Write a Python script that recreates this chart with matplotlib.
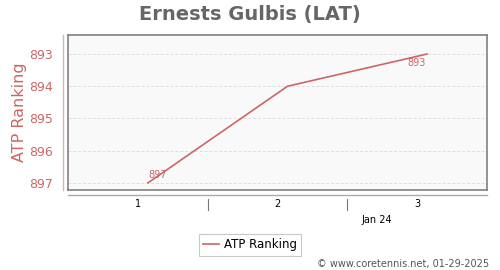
import matplotlib.pyplot as plt
import matplotlib.transforms as mtransforms

weeks = [1, 2, 3]
ranking = [897, 894, 893]
yticks = [893, 894, 895, 896, 897]
xlabels = ["1", "2", "3"]

red = "#cc6666"

fig = plt.figure(figsize=(5, 2.7), dpi=100)
ax = fig.add_axes([0.136, 0.2963, 0.838, 0.574])
ax.set_facecolor("#f9f9f9")
for s in ax.spines.values():
    s.set_color("#777777")
    s.set_linewidth(1.1)

ax.plot(weeks, ranking, color=red, lw=1.2, label="ATP Ranking")
ax.set_xlim(0.427, 3.43)
ax.set_ylim(897.22, 892.41)

ax.set_yticks(yticks)
ax.set_yticklabels([str(v) for v in yticks], color=red, fontsize=9)
ax.tick_params(axis="y", length=0, pad=11)
ax.set_xticks([])
ax.grid(axis="y", color="#dddddd", ls=(0, (3, 2)), lw=0.7)
ax.set_ylabel("ATP Ranking", color=red, fontsize=11.5, labelpad=1)

# annotations of first and last values
ax.annotate(str(ranking[0]), (weeks[0], ranking[0]), xytext=(0, 2),
            textcoords="offset points", color=red, fontsize=7, ha="left", va="bottom")
ax.annotate(str(ranking[-1]), (weeks[-1], ranking[-1]), xytext=(-14, -3),
            textcoords="offset points", color=red, fontsize=7, ha="left", va="top")

# left pink axis line and bottom gray axis line
ax.plot([-0.0119, -0.0119], [0, 1], transform=ax.transAxes, color="#e0b0b0",
        lw=1, clip_on=False)
ax.plot([0, 1], [-0.032, -0.032], transform=ax.transAxes, color="#aaaaaa",
        lw=1, clip_on=False)

# x labels and separators
blend = mtransforms.blended_transform_factory(ax.transData, ax.transAxes)
for x, lab in zip(weeks, xlabels):
    ax.text(x - 0.072, -0.09, lab, transform=blend, fontsize=7, ha="center", va="center")
for x in [1.5, 2.5]:
    ax.plot([x - 0.072, x - 0.072], [-0.058, -0.129], transform=blend, color="#777777",
            lw=0.8, clip_on=False)
ax.text(2.5 + 0.14, -0.195, "Jan 24", transform=blend, fontsize=7, ha="center", va="center")

fig.text(0.5, 0.948, "Ernests Gulbis (LAT)", ha="center", va="center",
         fontsize=14, fontweight="bold", color="#666666")

leg = fig.legend(loc="center", bbox_to_anchor=(0.5, 0.093), fontsize=8.5,
                 frameon=True, fancybox=False, handlelength=1.3, handletextpad=0.4,
                 borderpad=0.35)
leg.get_frame().set_edgecolor("#bbbbbb")
leg.get_frame().set_linewidth(0.8)

fig.text(0.978, 0.022, "© www.coretennis.net, 01-29-2025", ha="right", va="center",
         fontsize=7, color="#555555")

fig.savefig("out.png", dpi=100)
